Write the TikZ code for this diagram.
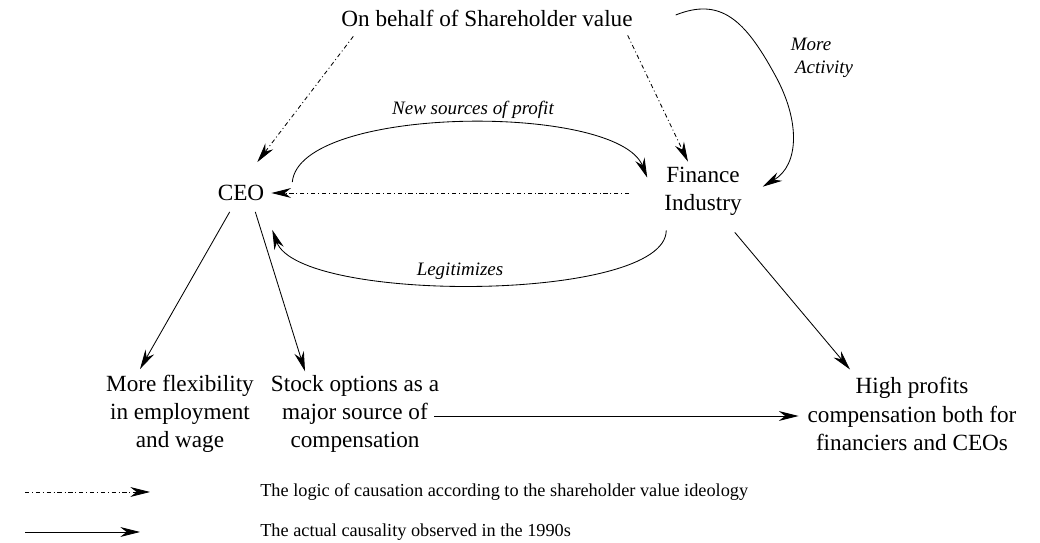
\documentclass[tikz,border=0pt]{standalone}
\usepackage{fontspec}
\setmainfont{Liberation Serif}
\usetikzlibrary{arrows.meta}
\tikzset{
  txt/.style={inner sep=2pt, align=center, font=\fontsize{16.5}{20}\selectfont},
  lbl/.style={inner sep=1pt, font=\fontsize{13.5}{16}\selectfont\itshape},
  legtxt/.style={inner sep=0pt, anchor=west, font=\fontsize{13}{16}\selectfont},
  actual/.style={line width=0.6pt, -{Stealth[length=14pt,width=7pt,inset=4.5pt]}},
  logic/.style={actual, dash pattern=on 3pt off 2pt on 0.7pt off 2pt},
}
\begin{document}
\begin{tikzpicture}[x=0.025cm,y=-0.025cm]
\useasboundingbox (0,0) rectangle (1040,543);
\node[txt] (shv) at (487,18) {On behalf of Shareholder value};
\node[txt] (ceo) at (241,193) {CEO};
\node[txt] (fin) at (703,191) {Finance\\Industry};
\node[txt] (flex) at (180,414) {More flexibility\\in employment\\and wage};
\node[txt] (stock) at (355,414) {Stock options as a\\major source of\\compensation};
\node[txt] (profits) at (912,414) {High profits\\compensation both for\\financiers and CEOs};
\node[lbl] (newsrc) at (473,110) {New sources of profit};
\node[lbl] (legit) at (460,271) {Legitimizes};
\node[lbl, align=left] (more) at (822,58) {More\\\hspace*{3pt}Activity};
% shareholder value logic
\draw[logic] ([shift={(15,7)}]shv.south west) -- ([shift={(-10,-20)}]ceo.north east);
\draw[logic] ([shift={(-8,6)}]shv.south east) -- ([shift={(-15,-2)}]fin.north);
\draw[logic] ([shift={(-32,2)}]fin.west) -- ([shift={(4,0)}]ceo.east);
% what actually happened
\draw[actual] ([shift={(25,0)}]ceo.north east) .. controls +(7,-77) and +(-30,-75) .. ([shift={(-14,14)}]fin.north west);
\draw[actual] ([shift={(5,12)}]fin.south west) .. controls +(0,72) and +(27,74) .. ([shift={(5,26)}]ceo.south east);
\draw[actual] ([shift={(40,-3)}]shv.east) .. controls +(45,-18) and +(-30,-55) .. (775,75) .. controls +(25,45) and +(37,-22) .. ([shift={(18,23)}]fin.north east);
\draw[actual] ([shift={(15,8)}]ceo.south west) -- ([shift={(-40,-3)}]flex.north);
\draw[actual] ([shift={(-12,8)}]ceo.south east) -- ([shift={(-50,-1)}]stock.north);
\draw[actual] ([shift={(-10,14)}]fin.south east) -- ([shift={(-62,-5)}]profits.north);
\draw[actual] ([shift={(-8,2)}]stock.east) -- ([shift={(-6,2)}]profits.west);
% legend
\coordinate (lgA) at (25,492);
\coordinate (lgB) at (150,492);
\coordinate (lgC) at (25,532);
\coordinate (lgD) at (140,532);
\draw[logic] (lgA) -- (lgB);
\draw[actual] (lgC) -- (lgD);
\node[legtxt] (lgLogic) at (260,492) {The logic of causation according to the shareholder value ideology};
\node[legtxt] (lgActual) at (260,532) {The actual causality observed in the 1990s};
\end{tikzpicture}
\end{document}
